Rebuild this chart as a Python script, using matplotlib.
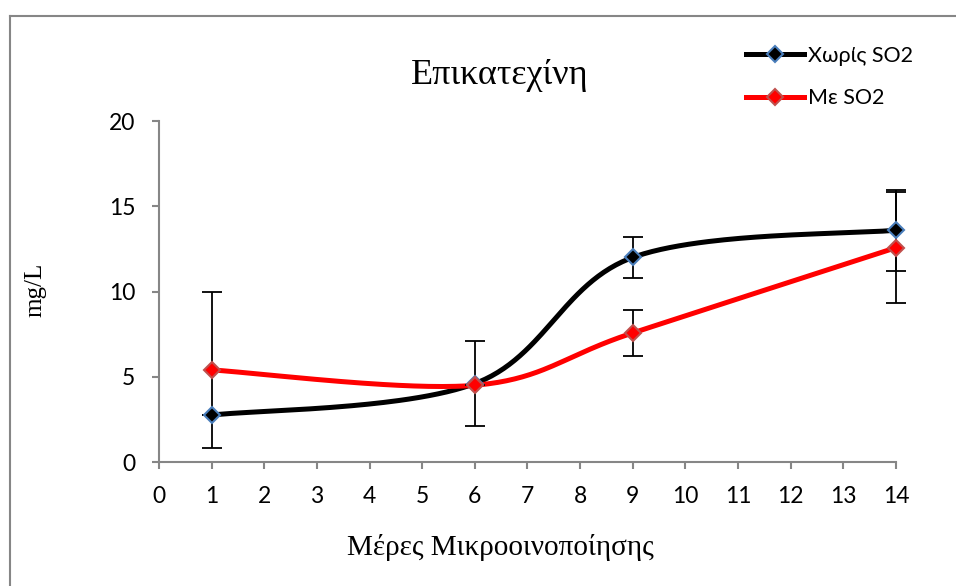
import numpy as np
import matplotlib
matplotlib.use("Agg")
import matplotlib.pyplot as plt
from matplotlib.lines import Line2D

# days of micro-vinification
days = [1, 6, 9, 14]

# epicatechin, mg/L
no_so2 = [2.75, 4.6, 12.0, 13.6]
no_so2_err = [0.0, 2.5, 1.22, 2.37]
with_so2 = [5.4, 4.5, 7.57, 12.57]
with_so2_err = [4.6, 0.0, 1.35, 3.25]

labels = ["Χωρίς SO2", "Με SO2"]
title = "Επικατεχίνη"
xlabel = "Μέρες Μικροοινοποίησης"
ylabel = "mg/L"


def smooth(xs, ys, n=60):
    # Catmull-Rom style cubic Bezier through the points (spreadsheet "smoothed line")
    p = np.column_stack([xs, ys]).astype(float)
    ext = np.vstack([p[0], p, p[-1]])
    out = []
    t = np.linspace(0, 1, n)[:, None]
    for i in range(len(p) - 1):
        p0, p1, p2, p3 = ext[i], ext[i + 1], ext[i + 2], ext[i + 3]
        c1 = p1 + (p2 - p0) / 6
        c2 = p2 - (p3 - p1) / 6
        seg = ((1 - t) ** 3) * p1 + 3 * ((1 - t) ** 2) * t * c1 + 3 * (1 - t) * t ** 2 * c2 + t ** 3 * p2
        out.append(seg if i == 0 else seg[1:])
    seg = np.vstack(out)
    return seg[:, 0], seg[:, 1]


sans = ["Lato", "Open Sans", "DejaVu Sans"]
serif = ["Liberation Serif", "DejaVu Serif"]
grey = "#868686"

fig = plt.figure(figsize=(9.56, 5.86), dpi=100)
ax = fig.add_axes([0.1663, 0.2116, 0.7709, 0.5819])

series = [
    (no_so2, no_so2_err, "black", "black", "#4A7EBB"),
    (with_so2, with_so2_err, "red", "red", "#C0504D"),
]
handles = []
for k, (vals, err, lc, mfc, mec) in enumerate(series):
    sx, sy = smooth(days, vals)
    ax.plot(sx, sy, color=lc, lw=3.6, solid_capstyle="round", zorder=2 + k, clip_on=False)
    eb = ax.errorbar(days, vals, yerr=err, fmt="none", ecolor="black", elinewidth=1.3,
                     capsize=7, capthick=1.3, zorder=4)
    for art in eb.lines[1] + eb.lines[2]:
        art.set_clip_on(False)
    ax.plot(days, vals, ls="none", marker="D", ms=8.5, mfc=mfc, mec=mec, mew=1.5, zorder=5,
            clip_on=False)
    handles.append(Line2D([], [], color=lc, lw=3.6, marker="D", ms=8.5, mfc=mfc, mec=mec, mew=1.5))

ax.set_xlim(0, 14)
ax.set_ylim(0, 20)
ax.set_xticks(range(0, 15))
ax.set_yticks(range(0, 21, 5))
for s in ("top", "right"):
    ax.spines[s].set_visible(False)
for s in ("left", "bottom"):
    ax.spines[s].set_color(grey)
    ax.spines[s].set_linewidth(1.5)
ax.tick_params(length=5, width=1.5, color=grey, pad=12, labelsize=16.5)
for lab in ax.get_xticklabels() + ax.get_yticklabels():
    lab.set_family(sans)

fig.text(0.523, 0.872, title, ha="center", va="center", family=serif, fontsize=26)
fig.text(0.523, 0.065, xlabel, ha="center", va="center", family=serif, fontsize=21)
fig.text(0.037, 0.505, ylabel, ha="center", va="center", rotation=90, family=serif, fontsize=18)

fig.legend(handles, labels, loc="upper left", bbox_to_anchor=(0.760, 0.955), frameon=False,
           handlelength=2.7, handletextpad=0.2, labelspacing=1.05,
           prop={"family": sans, "size": 15.5})

# outer chart frame (clipped on right and bottom)
fig.add_artist(Line2D([0.010, 0.010], [0.0, 0.972], color=grey, lw=1.5, transform=fig.transFigure))
fig.add_artist(Line2D([0.010, 1.0], [0.972, 0.972], color=grey, lw=1.5, transform=fig.transFigure))

fig.savefig("out.png", dpi=100)
